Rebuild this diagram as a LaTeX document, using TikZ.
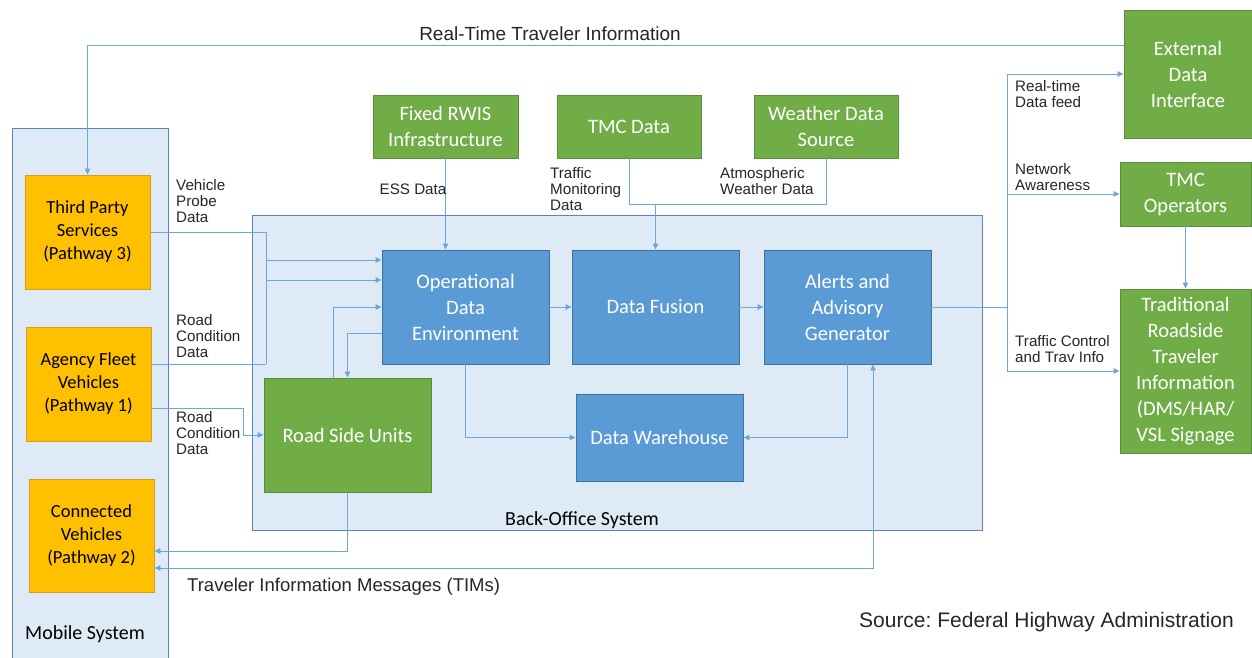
\documentclass[tikz,border=0pt]{standalone}
\usepackage{fontspec}
\setmainfont{Carlito}
\newfontfamily\arial{Liberation Sans}
\usetikzlibrary{arrows.meta}
\frenchspacing

\definecolor{boxgreen}{HTML}{70AD47}
\definecolor{greenedge}{HTML}{5A8F3A}
\definecolor{boxblue}{HTML}{5B9BD5}
\definecolor{blueedge}{HTML}{41719C}
\definecolor{boxorange}{HTML}{FFC000}
\definecolor{orangeedge}{HTML}{D4A017}
\definecolor{panelfill}{HTML}{DEEAF6}
\definecolor{paneledge}{HTML}{5A86C0}
\definecolor{linkblue}{HTML}{6FA6DA}
\definecolor{labeltext}{HTML}{262626}

\tikzset{
  blk/.style={draw, line width=0.9pt, align=center, text=white, inner sep=2pt,
              font=\fontsize{20.5}{26}\selectfont},
  gblk/.style={blk, fill=boxgreen, draw=greenedge},
  bblk/.style={blk, fill=boxblue, draw=blueedge},
  oblk/.style={blk, fill=boxorange, draw=orangeedge, text=black,
               font=\fontsize{18.5}{23}\selectfont},
  panel/.style={fill=panelfill, draw=paneledge, line width=1.2pt},
  link/.style={draw=linkblue, line width=0.9pt},
  arr/.style={link, -{Triangle[length=6pt,width=5.5pt]}},
  biarr/.style={link, {Triangle[length=6pt,width=5.5pt]}-{Triangle[length=6pt,width=5.5pt]}},
  lbl/.style={font=\arial\fontsize{15.2}{16}\selectfont, align=left, inner sep=0pt, text=labeltext},
  biglbl/.style={font=\arial\fontsize{18.5}{22}\selectfont, inner sep=0pt, text=labeltext},
}

\begin{document}
\begin{tikzpicture}[x=1pt,y=-1pt]
\useasboundingbox[fill=white] (0,0) rectangle (1252,657);

% system panels
\node[panel, minimum width=156pt, minimum height=535pt, anchor=north west, inner sep=0pt] (mobile) at (12,128) {};
\node[panel, minimum width=730pt, minimum height=315pt, anchor=north west, inner sep=0pt] (bos) at (252,215) {};
\node[font=\fontsize{20}{24}\selectfont, inner sep=0pt] (mobilelbl) at (85,634) {Mobile System};
\node[font=\fontsize{20}{24}\selectfont, inner sep=0pt] (boslbl) at (582,520) {Back-Office System};

% mobile sources
\node[oblk, minimum width=125pt, minimum height=114pt] (tps) at (87.5,232) {Third Party\\Services\\(Pathway 3)};
\node[oblk, minimum width=125pt, minimum height=114pt] (afv) at (88.5,384) {Agency Fleet\\Vehicles\\(Pathway 1)};
\node[oblk, minimum width=125pt, minimum height=113pt] (cv) at (91.5,535.5) {Connected\\Vehicles\\(Pathway 2)};

% back-office components
\node[bblk, minimum width=167pt, minimum height=114pt] (ode) at (465.5,307) {Operational\\Data\\Environment};
\node[bblk, minimum width=167pt, minimum height=114pt] (df) at (655.5,307) {Data Fusion};
\node[bblk, minimum width=167pt, minimum height=114pt] (aag) at (847.5,307) {Alerts and\\Advisory\\Generator};
\node[gblk, minimum width=167pt, minimum height=114pt] (rsu) at (347.5,435) {Road Side Units};
\node[bblk, minimum width=167pt, minimum height=87pt] (dw) at (659.5,437.5) {Data Warehouse};

% external data sources
\node[gblk, minimum width=145pt, minimum height=63pt] (rwis) at (445.5,126.5) {Fixed RWIS\\Infrastructure};
\node[gblk, minimum width=144pt, minimum height=63pt] (tmc) at (629,126.5) {TMC Data};
\node[gblk, minimum width=144pt, minimum height=63pt] (wds) at (826,126.5) {Weather Data\\Source};

% consumers on the right
\node[gblk, minimum width=128pt, minimum height=128pt] (edi) at (1188,74) {External\\Data\\Interface};
\node[gblk, minimum width=131pt, minimum height=64pt] (tmo) at (1185.5,194) {TMC\\Operators};
\node[gblk, minimum width=131pt, minimum height=164pt] (trt) at (1185.5,371) {Traditional\\Roadside\\Traveler\\Information\\(DMS/HAR/\\VSL Signage};

% junction points
\coordinate (tkA) at (266,232);
\coordinate (tkB) at (266,364);
\coordinate (tk1) at (266,260);
\coordinate (tk2) at (266,280);
\coordinate (rcd) at (243,408);
\coordinate (mrg) at (655.5,204);
\coordinate (sp) at (1007,307);

% connectors
\draw[arr] ([yshift=29pt]edi.west) -| (tps.north);
\draw[link] (tps.east) -- (tkA) -- (tkB);
\draw[link] (afv.east |- tkB) -- (tkB);
\draw[arr] (tk1) -- (tk1 -| ode.west);
\draw[arr] (tk2) -- (tk2 -| ode.west);
\draw[arr] (afv.east |- rcd) -- (rcd) |- (rsu.west);
\draw[arr] ([xshift=-14.5pt]rsu.north) |- (ode.west);
\draw[arr] ([yshift=-26pt]ode.west) -| (rsu.north);
\draw[arr] (rwis.south) -- (rwis.south |- ode.north);
\draw[link] (tmc.south) |- (mrg);
\draw[link] (wds.south) |- (mrg);
\draw[arr] (mrg) -- (df.north);
\draw[arr] (ode.east) -- (df.west);
\draw[arr] (df.east) -- (aag.west);
\draw[link] (aag.east) -- (sp);
\draw[arr] (sp) |- (edi.west);
\draw[arr] (sp) |- (tmo.west);
\draw[arr] (sp) |- (trt.west);
\draw[arr] (tmo.south) -- (trt.north);
\draw[arr] (ode.south) |- (dw.west);
\draw[arr] (aag.south) |- (dw.east);
\draw[arr] (rsu.south) |- ([yshift=-15.5pt]cv.east);
\draw[biarr] ([xshift=25.5pt]aag.south) |- ([yshift=-32.5pt]cv.east);

% flow labels
\node[biglbl, font=\arial\fontsize{19}{22}\selectfont] (rtti) at (550,34) {Real-Time Traveler Information};
\node[lbl, anchor=west] (vpd) at (176,201) {Vehicle\\Probe\\Data};
\node[lbl, anchor=west] (rcd1) at (176,336) {Road\\Condition\\Data};
\node[lbl, anchor=west] (rcd2) at (176,433) {Road\\Condition\\Data};
\node[lbl] (ess) at (413,189) {ESS Data};
\node[lbl, anchor=west] (tmd) at (550,189) {Traffic\\Monitoring\\Data};
\node[lbl, anchor=west] (awd) at (720,181) {Atmospheric\\Weather Data};
\node[lbl, anchor=west] (rtdf) at (1015,94.5) {Real-time\\Data feed};
\node[lbl, anchor=west] (nwa) at (1015,177) {Network\\Awareness};
\node[lbl, anchor=west] (tcti) at (1015,349.5) {Traffic Control\\and Trav Info};
\node[biglbl, anchor=west] (tims) at (187,587) {Traveler Information Messages (TIMs)};
\node[biglbl, anchor=east, font=\arial\fontsize{21}{25}\selectfont] (src) at (1234,622) {Source: Federal Highway Administration};
\end{tikzpicture}
\end{document}
